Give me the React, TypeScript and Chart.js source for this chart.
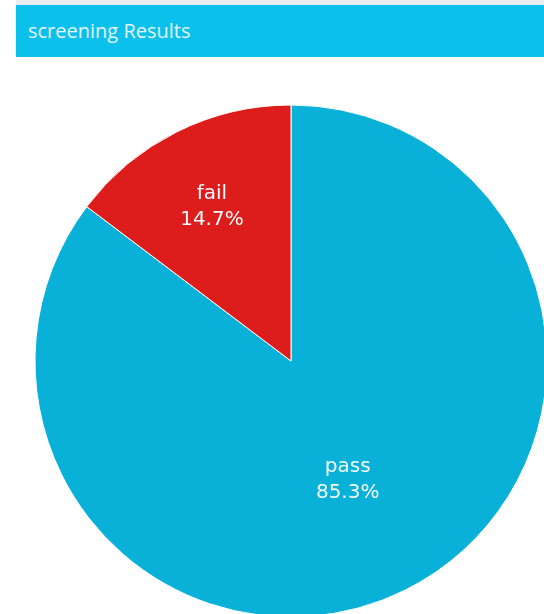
import React, { useEffect, useRef } from "react";
import { Chart, registerables } from "chart.js";

Chart.register(...registerables);

const TITLE = "screening Results";
const categories = ["pass", "fail"];
const values = [85.3, 14.7];
const sliceColors = ["#09b0d7", "#dd1c1c"];
const labelRadiusFrac = [0.51, 0.68];

const sliceLabels = {
  id: "sliceLabels",
  afterDatasetsDraw(chart: any) {
    const ctx = chart.ctx;
    const meta = chart.getDatasetMeta(0);
    const data = chart.data.datasets[0].data as number[];
    const total = data.reduce((a, b) => a + b, 0);
    ctx.save();
    ctx.fillStyle = "#f4fbfd";
    ctx.font = "20px 'DejaVu Sans'";
    ctx.textAlign = "center";
    ctx.textBaseline = "middle";
    meta.data.forEach((arc: any, i: number) => {
      const p = arc.getProps(["x", "y", "startAngle", "endAngle", "outerRadius"], true);
      const mid = (p.startAngle + p.endAngle) / 2;
      const r = p.outerRadius * labelRadiusFrac[i];
      const x = p.x + Math.cos(mid) * r - 1.5;
      const y = p.y + Math.sin(mid) * r + 2;
      const pct = ((data[i] / total) * 100).toFixed(1) + "%";
      ctx.fillText(chart.data.labels[i], x, y - 13);
      ctx.fillText(pct, x, y + 13);
    });
    ctx.restore();
  },
};

export default function App() {
  const ref = useRef<HTMLCanvasElement>(null);
  useEffect(() => {
    if (!ref.current) return;
    const chart = new Chart(ref.current, {
      type: "pie",
      data: {
        labels: categories,
        datasets: [
          {
            data: values,
            backgroundColor: sliceColors,
            borderColor: "#ffffff",
            borderWidth: 1,
          },
        ],
      },
      options: {
        animation: false,
        responsive: false,
        radius: 256,
        layout: { padding: 0 },
        plugins: {
          legend: { display: false },
          tooltip: { enabled: false },
        },
      },
      plugins: [sliceLabels],
    });
    return () => chart.destroy();
  }, []);

  return (
    <div
      style={{
        position: "fixed",
        left: 0,
        top: 0,
        width: 544,
        height: 614,
        overflow: "hidden",
        background: "#ffffff",
      }}
    >
      <div
        style={{
          position: "absolute",
          left: 16,
          top: 0,
          width: 528,
          height: 5,
          background: "#e9ecef",
        }}
      />
      <div
        style={{
          position: "absolute",
          left: 16,
          top: 5,
          width: 528,
          height: 52,
          background: "#0cc0ec",
          color: "#e3f7fc",
          fontFamily: "'Open Sans', sans-serif",
          fontSize: 20,
          lineHeight: "52px",
          paddingLeft: 12,
          boxSizing: "border-box",
          whiteSpace: "nowrap",
        }}
      >
        {TITLE}
      </div>
      <canvas
        ref={ref}
        width={520}
        height={520}
        style={{ position: "absolute", left: 31, top: 101, width: 520, height: 520 }}
      />
    </div>
  );
}
